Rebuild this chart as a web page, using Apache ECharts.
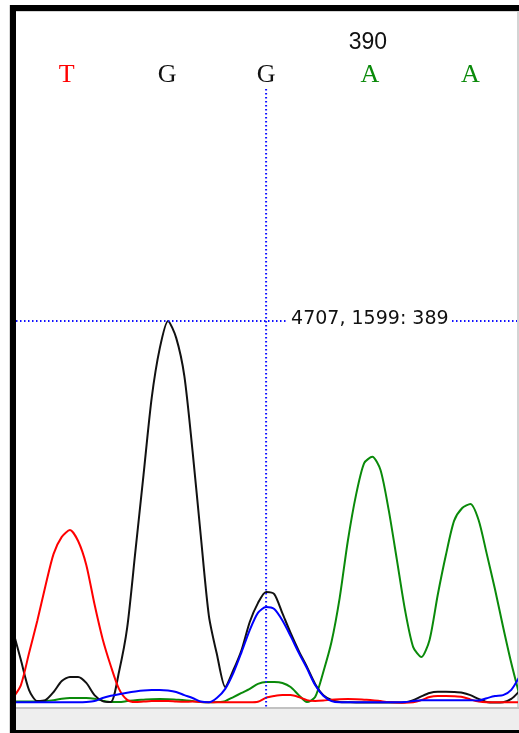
<!DOCTYPE html>
<html>
<head>
<meta charset="utf-8">
<script src="https://cdn.jsdelivr.net/npm/echarts@6/dist/echarts.min.js"></script>
<style>
  html, body { margin: 0; padding: 0; background: #ffffff; }
  #chart { width: 519px; height: 733px; }
</style>
</head>
<body>
<div id="chart"></div>
<script>
// Trace window: one intensity value per scan, scans 4676..4738
const firstScan = 4676;
const traceG = [305, 180, 54, 8, 12, 46, 92, 109, 109, 84, 33, 8, 4, 130, 314, 632, 954, 1276, 1486, 1599,
  1528, 1368, 1055, 703, 365, 201, 67, 138, 222, 339, 418, 465, 456, 375, 293, 218, 151, 80, 33, 13,
  4, 3, 2, 2, 2, 2, 2, 2, 3, 12, 28, 42, 47, 47, 46, 43, 33, 17, 4, 2, 3, 17, 50];
const traceA = [6, 6, 6, 6, 8, 12, 18, 21, 21, 21, 18, 10, 4, 4, 8, 12, 14, 16, 17, 16,
  14, 12, 8, 4, 3, 4, 8, 25, 42, 59, 80, 88, 88, 84, 67, 33, 4, 25, 130, 255,
  439, 678, 870, 1004, 1030, 975, 808, 600, 389, 234, 192, 264, 452, 619, 762, 816, 833, 766, 624, 477, 318, 167, 33];
const traceT = [20, 75, 209, 343, 490, 624, 695, 724, 678, 578, 414, 268, 155, 59, 13, 4, 6, 8, 8, 8,
  6, 5, 6, 4, 3, 3, 3, 3, 3, 3, 5, 22, 29, 33, 33, 25, 12, 8, 10, 14,
  16, 17, 16, 14, 12, 8, 4, 2, 1, 3, 12, 25, 29, 29, 28, 25, 15, 6, 3, 3, 3, 3, 3];
const traceC = [3, 3, 3, 3, 3, 3, 3, 3, 3, 4, 8, 21, 30, 37, 43, 48, 52, 54, 54, 52,
  46, 33, 21, 6, 3, 22, 59, 126, 213, 305, 377, 402, 393, 345, 280, 210, 145, 75, 30, 8,
  3, 3, 3, 3, 3, 3, 3, 3, 4, 8, 12, 12, 12, 12, 12, 12, 12, 10, 20, 29, 33, 55, 110];

// Base calls
const baseLetters = ['T', 'G', 'G', 'A', 'A'];
const baseScans = [4682.6, 4694.9, 4707, 4719.7, 4732];
const baseNumbers = [387, 388, 389, 390, 391];

// Cursor readout
const cursorScan = 4707;
const cursorValue = 1599;
const cursorBase = 389;

const baseColors = { A: '#0a8a0a', C: '#0000ff', G: '#111111', T: '#ff0000' };

function toPairs(arr) {
  return arr.map((v, i) => [firstScan + i, v]);
}

function traceSeries(name, arr, color) {
  return {
    name: name,
    type: 'line',
    data: toPairs(arr),
    symbol: 'none',
    smooth: 0.25,
    clip: true,
    lineStyle: { color: color, width: 2 },
    emphasis: { disabled: true },
    z: 3
  };
}

const chart = echarts.init(document.getElementById('chart'), null, { renderer: 'canvas' });

const option = {
  animation: false,
  backgroundColor: '#ffffff',
  grid: { left: 16, right: 2, top: 10, bottom: 30 },
  xAxis: {
    type: 'value', min: 4676.4, max: 4737.7,
    show: false
  },
  yAxis: {
    type: 'value', min: 0, max: 2900,
    show: false
  },
  graphic: [
    // bottom status strip
    { type: 'rect', shape: { x: 16, y: 709, width: 503, height: 22 }, style: { fill: '#eeeeee' }, z: 0 },
    { type: 'rect', shape: { x: 16, y: 707, width: 503, height: 2 }, style: { fill: '#c2c2c2' }, z: 0 },
    // right edge
    { type: 'rect', shape: { x: 517.5, y: 11, width: 1, height: 696 }, style: { fill: '#a8a8a8' }, z: 0 },
    // light inner edge under top border
    { type: 'rect', shape: { x: 16, y: 11, width: 503, height: 1 }, style: { fill: '#d4d4d4' }, z: 0 },
    // outer hairline
    { type: 'rect', shape: { x: 9, y: 5, width: 1, height: 728 }, style: { fill: '#d8d8d8' }, z: 0 },
    // black frame
    { type: 'rect', shape: { x: 10, y: 5, width: 509, height: 6 }, style: { fill: '#000000' }, z: 20 },
    { type: 'rect', shape: { x: 10, y: 5, width: 6, height: 728 }, style: { fill: '#000000' }, z: 20 },
    { type: 'rect', shape: { x: 10, y: 730, width: 509, height: 3 }, style: { fill: '#000000' }, z: 20 }
  ],
  series: [
    traceSeries('A', traceA, baseColors.A),
    traceSeries('G', traceG, baseColors.G),
    traceSeries('T', traceT, baseColors.T),
    traceSeries('C', traceC, baseColors.C),
    {
      // base letters and every tenth base number
      type: 'custom',
      clip: false,
      silent: true,
      z: 5,
      data: baseScans.map((s, i) => [s, i]),
      renderItem: function (params, api) {
        const i = api.value(1);
        const x = api.coord([api.value(0), 0])[0];
        const letter = baseLetters[i];
        const children = [{
          type: 'text',
          style: {
            text: letter, x: x, y: 75,
            fill: baseColors[letter],
            font: '26px "Liberation Serif"',
            align: 'center', verticalAlign: 'middle'
          }
        }];
        if (baseNumbers[i] % 10 === 0) {
          children.push({
            type: 'text',
            style: {
              text: String(baseNumbers[i]), x: x - 2, y: 43,
              fill: '#111111',
              font: '23px "Liberation Sans"',
              align: 'center', verticalAlign: 'middle'
            }
          });
        }
        return { type: 'group', children: children };
      }
    },
    {
      // cursor crosshair with readout
      type: 'custom',
      clip: false,
      silent: true,
      z: 10,
      data: [[cursorScan, cursorValue]],
      renderItem: function (params, api) {
        const pt = api.coord([api.value(0), api.value(1)]);
        const cs = params.coordSys;
        const dash = { stroke: '#1010ff', lineWidth: 2, lineDash: [1.5, 2.5] };
        return {
          type: 'group',
          children: [
            { type: 'line', shape: { x1: pt[0], y1: 89, x2: pt[0], y2: 709 }, style: dash },
            { type: 'line', shape: { x1: cs.x, y1: pt[1], x2: cs.x + cs.width, y2: pt[1] }, style: dash },
            {
              type: 'text',
              style: {
                text: cursorScan + ', ' + cursorValue + ': ' + cursorBase,
                x: pt[0] + 21, y: pt[1] - 2,
                fill: '#111111',
                font: '19px "DejaVu Sans"',
                align: 'left', verticalAlign: 'middle',
                backgroundColor: '#ffffff',
                padding: [2, 3, 2, 4]
              }
            }
          ]
        };
      }
    }
  ]
};

chart.setOption(option);
</script>
</body>
</html>
